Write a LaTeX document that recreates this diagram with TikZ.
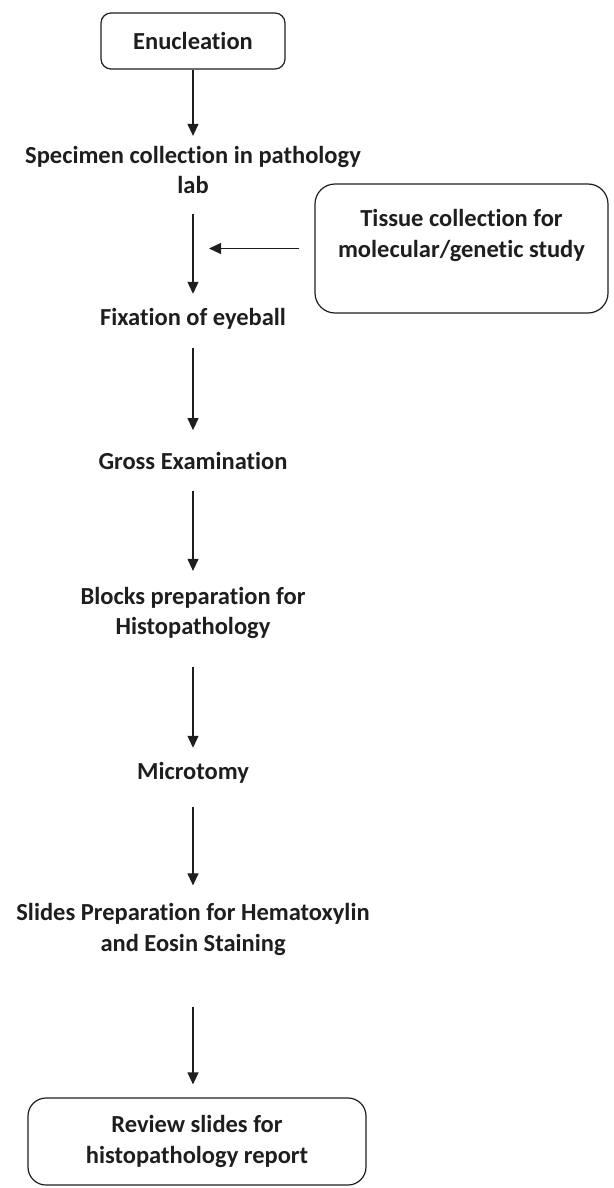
\documentclass[tikz,border=0pt]{standalone}
\usepackage{fontspec}
\setmainfont{Carlito}[Ligatures=NoCommon]
\usetikzlibrary{arrows.meta}
\definecolor{ink}{HTML}{1E1E1E}
\begin{document}
\begin{tikzpicture}[x=1pt,y=-1pt,
  every node/.style={font=\fontsize{24.5}{30.5}\selectfont\bfseries, text=ink},
  steptext/.style={inner sep=0pt, align=center},
  roundbox/.style={draw=ink, line width=1.2pt, rounded corners=#1, align=center, inner sep=0pt},
  flow/.style={draw=ink, line width=1.2pt, -{Triangle[length=12pt,width=11pt]}}]
  \path[use as bounding box] (0,0) rectangle (613,1188);

  % main column of steps
  \node[roundbox=10pt, minimum width=184pt, minimum height=56pt] (enu) at (193,41) {Enucleation};
  \node[steptext] (spec) at (193,170) {Specimen collection in pathology\\lab};
  \node[steptext] (fix) at (193,318.5) {Fixation of eyeball};
  \node[steptext] (gross) at (193,461) {Gross Examination};
  \node[steptext] (blocks) at (193,613) {Blocks preparation for\\Histopathology};
  \node[steptext] (micro) at (193,772.5) {Microtomy};
  \node[steptext] (slides) at (193,929.5) {Slides Preparation for Hematoxylin\\and Eosin Staining};
  \node[roundbox=18pt, minimum width=338pt, minimum height=87pt] (review) at (197,1141.5)
    {Review slides for\\histopathology report};

  % side branch
  \node[roundbox=20pt, minimum width=293pt, minimum height=129pt] (tissue) at (461.5,248.5)
    {Tissue collection for\\molecular/genetic study\\\mbox{}};
  \coordinate (join) at (193,248.5);

  % connectors
  \draw[flow, shorten >=10pt] (enu.south) -- (spec.north);
  \draw[flow, shorten <=20pt, shorten >=14pt] (spec.south) -- (fix.north);
  \draw[flow, shorten <=19pt, shorten >=22pt] (fix.south) -- (gross.north);
  \draw[flow, shorten <=21pt, shorten >=16pt] (gross.south) -- (blocks.north);
  \draw[flow, shorten <=28pt, shorten >=14pt] (blocks.south) -- (micro.north);
  \draw[flow, shorten <=24pt, shorten >=18pt] (micro.south) -- (slides.north);
  \draw[flow, shorten <=51pt, shorten >=13pt] (slides.south) -- (slides.south |- review.north);
  \draw[flow, shorten <=15pt, shorten >=16pt] (tissue.west) -- (join);
\end{tikzpicture}
\end{document}
